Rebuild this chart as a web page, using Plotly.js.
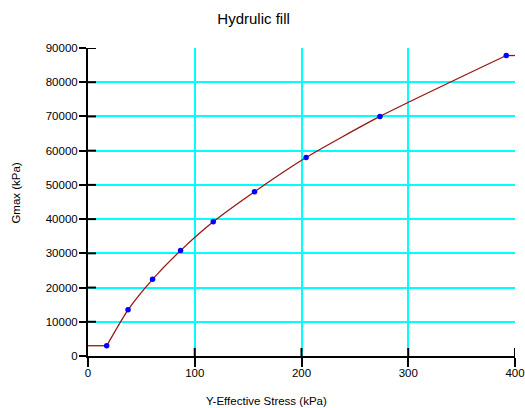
<!DOCTYPE html>
<html>
<head>
<meta charset="utf-8">
<script src="https://cdn.plot.ly/plotly-3.0.1.min.js"></script>
<style>
  html, body { margin: 0; padding: 0; background: #ffffff; }
  #chart { width: 525px; height: 408px; }
</style>
</head>
<body>
<div id="chart"></div>
<script>
// Measured Gmax against effective stress, hydraulic fill
const stress = [17.5, 37.5, 60.5, 86.7, 117.3, 156.0, 204.3, 273.5, 391.8];
const gmax = [3000, 13500, 22400, 30800, 39200, 48000, 58000, 70000, 87800];

const xTicks = [0, 100, 200, 300, 400];
const yTicks = [0, 10000, 20000, 30000, 40000, 50000, 60000, 70000, 80000, 90000];

const FONT = 'Liberation Sans, Arial, sans-serif';
const CURVE = '#9a1414';

const W = 525, H = 408;
const M = { l: 88, r: 10, t: 48, b: 52 };
const X_RANGE = [0, 400], Y_RANGE = [0, 90000];

const last = stress.length - 1;

// flat extensions of the fitted curve at both ends
const endX = [X_RANGE[0], stress[0], null, stress[last], X_RANGE[1]];
const endY = [gmax[0], gmax[0], null, gmax[last], gmax[last]];

const traces = [
  {
    x: endX, y: endY, type: 'scatter', mode: 'lines',
    line: { color: CURVE, width: 1.3 }, connectgaps: false,
    hoverinfo: 'skip'
  },
  {
    x: stress, y: gmax, type: 'scatter', mode: 'lines',
    line: { color: CURVE, width: 1.3, shape: 'spline', smoothing: 0.6 },
    hoverinfo: 'skip'
  },
  {
    x: stress, y: gmax, type: 'scatter', mode: 'markers',
    marker: { color: '#0000ff', size: 5.5 }
  }
];

// inner halves of the crossing tick marks, 8 px long
const INNER = 8;
const dyPerPx = (Y_RANGE[1] - Y_RANGE[0]) / (H - M.t - M.b);
const dxPerPx = (X_RANGE[1] - X_RANGE[0]) / (W - M.l - M.r);
const tickShapes = [];
xTicks.slice(1).forEach(function (v) {
  tickShapes.push({
    type: 'line', xref: 'x', yref: 'y', layer: 'above',
    x0: v, x1: v, y0: Y_RANGE[0], y1: Y_RANGE[0] + INNER * dyPerPx,
    line: { color: '#000000', width: 2 }
  });
});
yTicks.slice(1).forEach(function (v) {
  tickShapes.push({
    type: 'line', xref: 'x', yref: 'y', layer: 'above',
    x0: X_RANGE[0], x1: X_RANGE[0] + INNER * dxPerPx, y0: v, y1: v,
    line: { color: '#000000', width: 2 }
  });
});

const tickFont = { family: FONT, size: 11.5, color: '#000000' };

const layout = {
  width: W, height: H,
  margin: M,
  paper_bgcolor: '#ffffff', plot_bgcolor: '#ffffff',
  showlegend: false,
  font: { family: FONT, color: '#000000' },
  title: {
    text: 'Hydrulic fill',
    font: { family: FONT, size: 15, color: '#000000' },
    xref: 'container', x: 0.483, xanchor: 'center',
    yref: 'container', y: 0.955, yanchor: 'middle'
  },
  xaxis: {
    range: X_RANGE, tickvals: xTicks, ticktext: xTicks.map(String),
    ticks: 'outside', ticklen: 9, tickwidth: 2, tickcolor: '#000000',
    ticklabelstandoff: -4,
    showline: true, linecolor: '#000000', linewidth: 2,
    showgrid: true, gridcolor: '#00ffff', gridwidth: 2,
    zeroline: false, tickfont: tickFont
  },
  yaxis: {
    range: Y_RANGE, tickvals: yTicks, ticktext: yTicks.map(String),
    ticks: 'outside', ticklen: 7, tickwidth: 2, tickcolor: '#000000',
    ticklabelstandoff: -1,
    showline: true, linecolor: '#000000', linewidth: 2,
    showgrid: true, gridcolor: '#00ffff', gridwidth: 2,
    zeroline: false, tickfont: tickFont
  },
  shapes: tickShapes,
  annotations: [
    {
      text: 'Y-Effective Stress (kPa)', xref: 'paper', yref: 'paper',
      x: 0.419, y: -0.147, xanchor: 'center', yanchor: 'middle', showarrow: false,
      font: { family: FONT, size: 11.5, color: '#000000' }
    },
    {
      text: 'Gmax (kPa)', xref: 'paper', yref: 'paper', textangle: -90,
      x: -0.1675, y: 0.532, xanchor: 'center', yanchor: 'middle', showarrow: false,
      font: { family: FONT, size: 11.5, color: '#000000' }
    }
  ]
};

Plotly.newPlot('chart', traces, layout, { displayModeBar: false, staticPlot: true });
</script>
</body>
</html>
